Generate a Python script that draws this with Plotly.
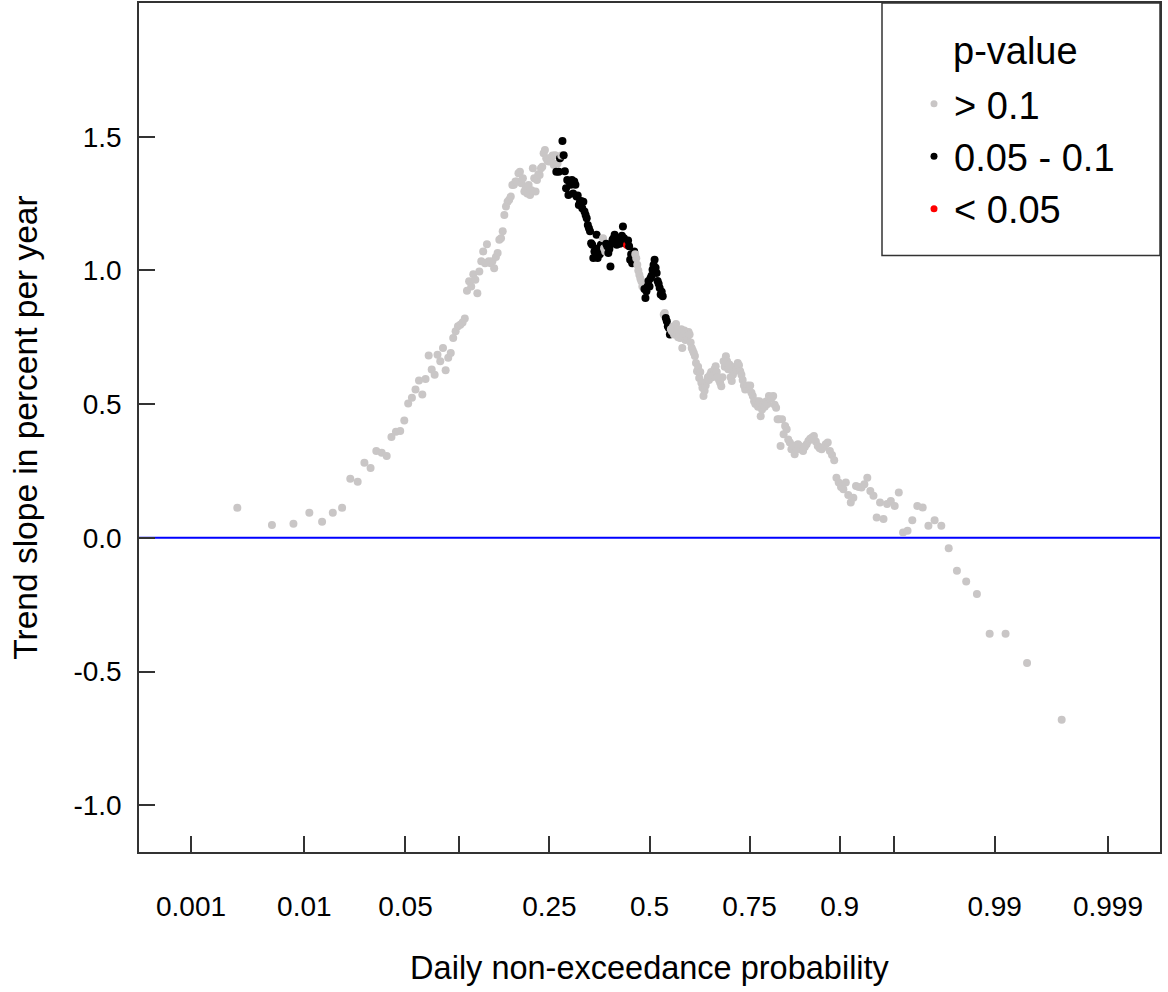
import plotly.graph_objects as go
from statistics import NormalDist

# ---------------- data ----------------
# Trend slope (percent per year) for each of the 365 daily quantiles, ordered by rank
slope = [
    # ranks 1-24
    0.112, 0.048, 0.053, 0.094, 0.060, 0.094, 0.112, 0.221, 0.210, 0.281,
    0.261, 0.325, 0.318, 0.306, 0.377, 0.397, 0.399, 0.439, 0.502, 0.524,
    0.555, 0.588, 0.536, 0.594,
    # ranks 25-62
    0.682, 0.629, 0.610, 0.685, 0.660, 0.710, 0.627, 0.673, 0.691, 0.747,
    0.772, 0.791, 0.797, 0.805, 0.820, 0.924, 0.959, 0.940, 0.986, 0.965,
    0.915, 0.996, 1.034, 1.071, 1.027, 1.098, 1.034, 1.027, 1.034, 1.008,
    1.050, 1.065, 1.115, 1.120, 1.146, 1.207, 1.239, 1.257,
    # ranks 63-96
    1.264, 1.276, 1.319, 1.320, 1.332, 1.332, 1.363, 1.369, 1.326, 1.345,
    1.295, 1.307, 1.288, 1.319, 1.282, 1.300, 1.382, 1.345, 1.295, 1.338,
    1.360, 1.357, 1.382, 1.388, 1.438, 1.450, 1.419, 1.410, 1.407, 1.420,
    1.407, 1.430, 1.394, 1.431,
    # ranks 97-124
    1.369, 1.400, 1.369, 1.419, 1.430, 1.484, 1.431, 1.371, 1.307, 1.338,
    1.282, 1.330, 1.320, 1.338, 1.288, 1.332, 1.320, 1.276, 1.280, 1.245,
    1.257, 1.260, 1.232, 1.257, 1.220, 1.207, 1.195, 1.170,
    # ranks 125-203
    1.158, 1.146, 1.102, 1.096, 1.046, 1.071, 1.077, 1.133, 1.046, 1.083,
    1.060, 1.096, 1.080, 1.120, 1.083, 1.071, 1.100, 1.090, 1.065, 1.080,
    1.015, 1.100, 1.115, 1.120, 1.133, 1.110, 1.096, 1.105, 1.120, 1.100,
    1.115, 1.130, 1.164, 1.120, 1.110, 1.100, 1.095, 1.112, 1.090, 1.040,
    1.060, 1.027, 1.050, 1.071, 1.060, 1.045, 1.021, 1.000, 0.984, 0.970,
    0.959, 0.940, 0.950, 0.930, 0.897, 0.922, 0.940, 0.960, 0.940, 0.971,
    0.980, 1.002, 1.020, 1.040, 1.010, 0.990, 0.960, 0.950, 0.934, 0.910,
    0.920, 0.903, 0.835, 0.841, 0.822, 0.810, 0.791, 0.785, 0.760,
    # ranks 204-225
    0.780, 0.772, 0.790, 0.760, 0.775, 0.800, 0.770, 0.750, 0.760, 0.747,
    0.780, 0.710, 0.760, 0.775, 0.740, 0.760, 0.750, 0.770, 0.760, 0.730,
    0.710, 0.700,
    # ranks 226-273
    0.691, 0.680, 0.654, 0.623, 0.640, 0.598, 0.620, 0.580, 0.561, 0.530,
    0.550, 0.570, 0.586, 0.600, 0.590, 0.610, 0.620, 0.600, 0.610, 0.630,
    0.642, 0.620, 0.600, 0.590, 0.580, 0.567, 0.600, 0.660, 0.640, 0.679,
    0.660, 0.630, 0.648, 0.600, 0.586, 0.610, 0.623, 0.640, 0.630, 0.654,
    0.645, 0.623, 0.610, 0.590, 0.570, 0.555, 0.560, 0.570,
    # ranks 274-289
    0.555, 0.570, 0.542, 0.530, 0.511, 0.500, 0.511, 0.490, 0.511, 0.455,
    0.480, 0.500, 0.490, 0.510, 0.500, 0.530,
    # ranks 290-345
    0.520, 0.524, 0.530, 0.498, 0.486, 0.443, 0.443, 0.343, 0.443, 0.387,
    0.418, 0.406, 0.368, 0.356, 0.331, 0.345, 0.312, 0.330, 0.350, 0.343,
    0.330, 0.325, 0.340, 0.350, 0.362, 0.370, 0.375, 0.381, 0.360, 0.343,
    0.335, 0.331, 0.340, 0.350, 0.356, 0.325, 0.310, 0.290, 0.225, 0.207,
    0.190, 0.182, 0.207, 0.160, 0.132, 0.150, 0.194, 0.190, 0.188, 0.200,
    0.225, 0.175, 0.157, 0.076, 0.132, 0.070,
    # ranks 346-365
    0.126, 0.138, 0.119, 0.169, 0.020, 0.026, 0.066, 0.119, 0.113, 0.045,
    0.066, 0.045, -0.039, -0.123, -0.163, -0.210, -0.359, -0.359, -0.468, -0.680,
]

# p-value class of each point (run lengths along the rank order)
# g: > 0.1, b: 0.05 - 0.1, r: < 0.05
sig_runs = [
    ("g", 96), ("b", 1), ("g", 1), ("b", 2), ("g", 1), ("b", 36), ("g", 3),
    ("b", 20), ("r", 1), ("b", 7), ("g", 9), ("b", 19), ("g", 2), ("b", 5),
    ("g", 162),
]

class_codes = ["g", "b", "r"]
class_labels = ["> 0.1", "0.05 - 0.1", "< 0.05"]
class_colors = ["#c9c6c6", "#000000", "#ff0000"]
legend_title = "p-value"

tick_probs = [0.001, 0.01, 0.05, 0.1, 0.25, 0.5, 0.75, 0.9, 0.95, 0.99, 0.999]
tick_labels = ["0.001", "0.01", "0.05", "", "0.25", "0.5", "0.75", "0.9", "", "0.99", "0.999"]

y_tickvals = [-1.0, -0.5, 0.0, 0.5, 1.0, 1.5]
y_ticklabels = ["-1.0", "-0.5", "0.0", "0.5", "1.0", "1.5"]

# ---------------- derived ----------------
nd = NormalDist()
n = len(slope)
rank = list(range(1, n + 1))
prob = [r / (n + 1) for r in rank]          # plotting position
zq = [nd.inv_cdf(p) for p in prob]           # normal probability scale

sig = []
for code, cnt in sig_runs:
    sig += [code] * cnt
cmap = dict(zip(class_codes, class_colors))
point_colors = [cmap[c] for c in sig[:n]]

FONT = "Liberation Sans, Arial, Helvetica, sans-serif"
AXC = "#333333"

# plot-area geometry (pixels)
L, R, T, B = 139, 8, 1, 140
PW, PH = 1168 - L - R, 992 - T - B


def px_x(px):
    return (px - L) / PW


def px_y(py):
    return (992 - B - py) / PH


fig = go.Figure()

fig.add_trace(go.Scatter(
    x=zq, y=slope, mode="markers",
    marker=dict(color=point_colors, size=8, line=dict(width=0)),
    showlegend=False, hoverinfo="skip",
))

for code, label, col in zip(class_codes, class_labels, class_colors):
    fig.add_trace(go.Scatter(
        x=[None], y=[None], mode="markers", name=label, legendgroup=label,
        marker=dict(color=col, size=7, line=dict(width=0)),
    ))

fig.add_hline(y=0, line=dict(color="#0000ff", width=2), layer="below")

# legend frame and title
fig.add_shape(type="rect", xref="paper", yref="paper",
              x0=px_x(882), x1=1.0, y0=px_y(254), y1=1.0,
              line=dict(color=AXC, width=1.5), fillcolor="rgba(0,0,0,0)")
fig.add_annotation(text=legend_title, xref="paper", yref="paper",
                   x=px_x(1015), y=px_y(49), xanchor="center", yanchor="middle",
                   showarrow=False, font=dict(size=38, family=FONT, color="black"))

fig.update_layout(
    width=1168, height=992,
    margin=dict(l=L, r=R, t=T, b=B),
    paper_bgcolor="white", plot_bgcolor="white",
    font=dict(family=FONT, color="black"),
    showlegend=True,
    legend=dict(
        x=px_x(914), xanchor="left", y=px_y(155), yanchor="middle",
        bgcolor="rgba(0,0,0,0)", borderwidth=0,
        font=dict(size=38, family=FONT, color="black"),
        tracegroupgap=0, itemsizing="trace",
    ),
    xaxis=dict(
        range=[-3.441, 3.441],
        tickmode="array",
        tickvals=[nd.inv_cdf(p) for p in tick_probs],
        ticktext=tick_labels,
        ticks="inside", ticklen=16, tickwidth=1.5, tickcolor=AXC,
        ticklabelstandoff=29,
        tickfont=dict(size=28, family=FONT, color="black"),
        showline=True, linecolor=AXC, linewidth=1.5, mirror=True,
        showgrid=False, zeroline=False,
        title=dict(text="Daily non-exceedance probability",
                   font=dict(size=32.5, family=FONT, color="black"), standoff=35),
    ),
    yaxis=dict(
        range=[-1.175, 2.0],
        tickmode="array", tickvals=y_tickvals, ticktext=y_ticklabels,
        ticks="inside", ticklen=16, tickwidth=1.5, tickcolor=AXC,
        ticklabelstandoff=10,
        tickfont=dict(size=28, family=FONT, color="black"),
        showline=True, linecolor=AXC, linewidth=1.5, mirror=True,
        showgrid=False, zeroline=False,
        title=dict(text="Trend slope in percent per year",
                   font=dict(size=33.5, family=FONT, color="black"), standoff=26),
    ),
)

fig.write_html("out.html")
